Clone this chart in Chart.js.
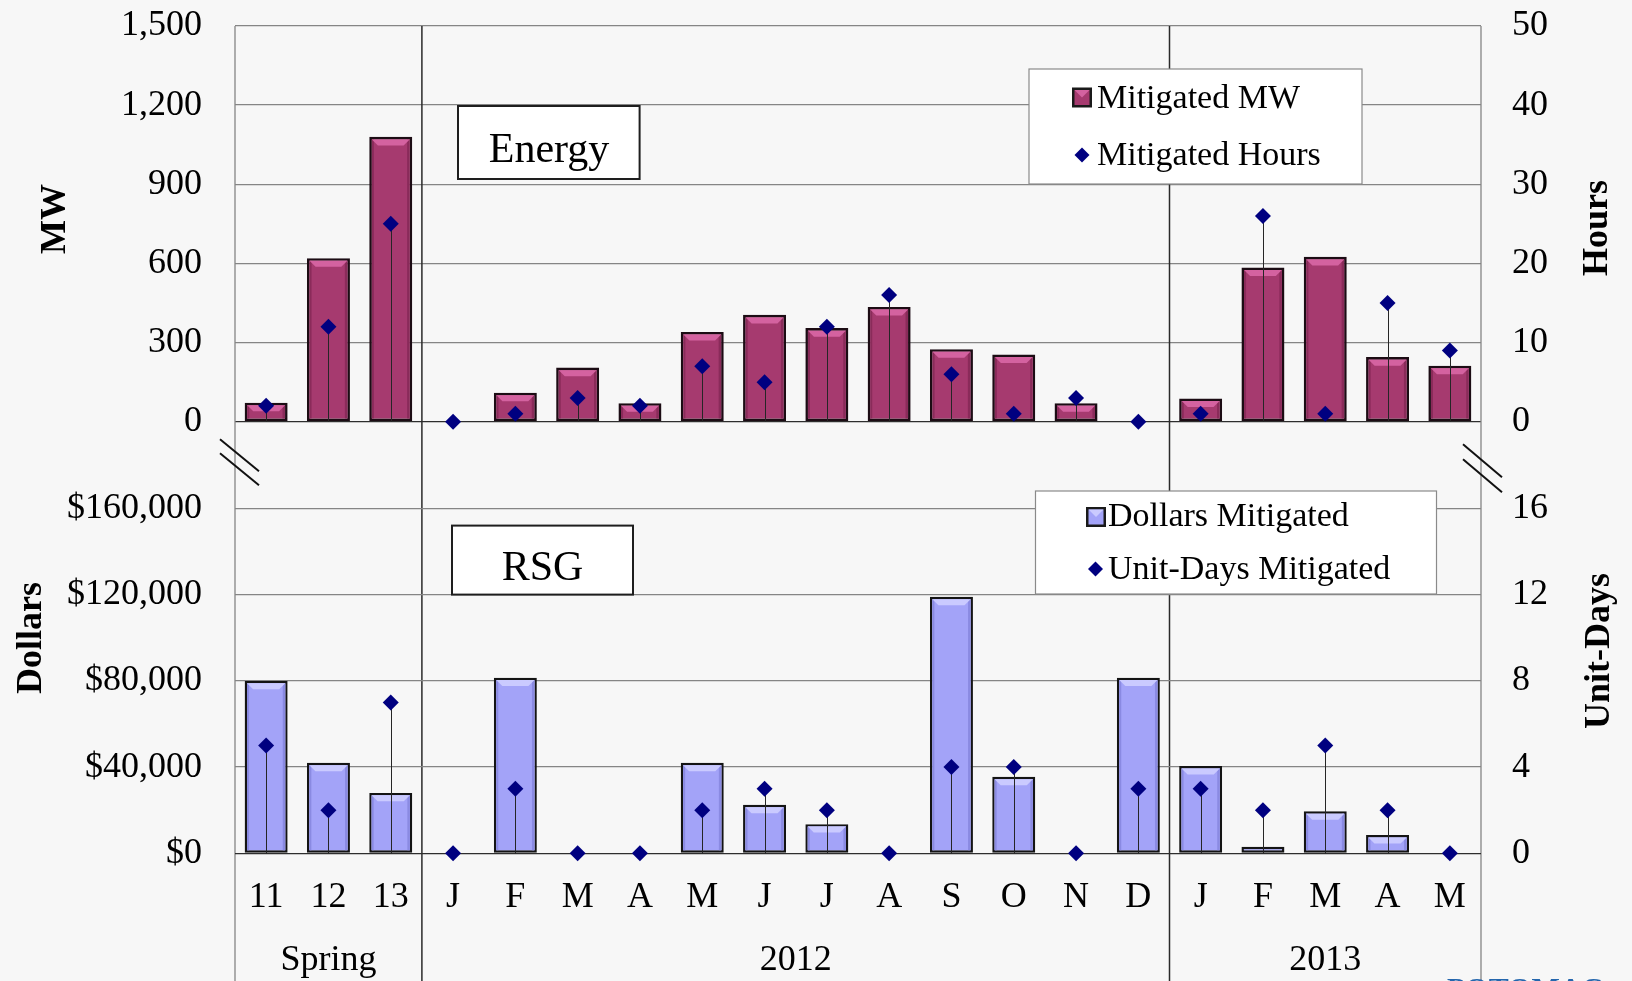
<!DOCTYPE html>
<html><head><meta charset="utf-8">
<script src="https://cdn.jsdelivr.net/npm/chart.js@4.4.1/dist/chart.umd.min.js"></script>
<style>
html,body{margin:0;padding:0;background:#f7f7f7;width:1632px;height:981px;overflow:hidden;}
canvas{position:absolute;left:0;top:0;}
</style></head><body>
<canvas id="energy" width="1632" height="981"></canvas>
<canvas id="rsg" width="1632" height="981"></canvas>
<script>
// ---------------- data ----------------
const categories = ['11','12','13','J','F','M','A','M','J','J','A','S','O','N','D','J','F','M','A','M'];
const groupNames = ['Spring','2012','2013'];
const groupSizes = [3, 12, 5];
const mitigatedMW = [72, 620, 1080, 0, 110, 205, 70, 340, 405, 355, 435, 275, 255, 70, 0, 88, 585, 625, 245, 212];
const mitigatedHours = [2, 12, 25, 0, 1, 3, 2, 7, 5, 12, 16, 6, 1, 3, 0, 1, 26, 1, 15, 9];
const dollarsMitigated = [80000, 42000, 28000, 0, 81500, 0, 0, 42000, 22500, 13500, 0, 119000, 35500, 0, 81500, 40500, 3000, 19500, 8500, 0];
const unitDaysMitigated = [5, 2, 7, 0, 3, 0, 0, 2, 3, 2, 0, 4, 4, 0, 3, 3, 2, 5, 2, 0];
const mwTicks = [0, 300, 600, 900, 1200, 1500];
const hoursTicks = [0, 10, 20, 30, 40, 50];
const dollarTicks = [0, 40000, 80000, 120000, 160000];
const unitDayTicks = [0, 4, 8, 12, 16];

// group centres (in category index units) and boundaries
const groupCenters = [];
const groupBounds = [];
(function(){ let s = 0; groupSizes.forEach(n => { groupCenters.push(s + (n - 1) / 2); s += n; groupBounds.push(s); }); })();

// ---------------- layout / style ----------------
const FONT = "'Liberation Serif','Times New Roman',serif";
const W = 1632, H = 981;
const PLOT_L = 235, PLOT_R = 1481;
const TOP_A = 26, ZERO_A = 421.7, TOP_B = 508.5, ZERO_B = 853.3;
const tickFont = {family: FONT, size: 36};
const catFont = {family: FONT, size: 36};
const gridColor = c => (c.tick && c.tick.value === 0) ? '#2e2e2e' : '#858585';
const fixedTicks = vals => s => { s.ticks = vals.map(v => ({value: v})); };
const CLEAR = 'rgba(0,0,0,0)';

// ---------------- plugin ----------------
function drawBoxTitle(ctx, b) {
  ctx.save();
  ctx.fillStyle = '#ffffff';
  ctx.fillRect(b.x, b.y, b.w, b.h);
  ctx.strokeStyle = '#1e1e1e'; ctx.lineWidth = 2;
  ctx.strokeRect(b.x, b.y, b.w, b.h);
  ctx.fillStyle = '#000'; ctx.font = '42px ' + FONT;
  ctx.textAlign = 'center'; ctx.textBaseline = 'alphabetic';
  ctx.fillText(b.text, b.cx, b.baseline);
  ctx.restore();
}
function drawDiamond(ctx, x, y, r, color) {
  ctx.fillStyle = color;
  ctx.beginPath(); ctx.moveTo(x, y - r); ctx.lineTo(x + r, y); ctx.lineTo(x, y + r); ctx.lineTo(x - r, y); ctx.closePath(); ctx.fill();
}
function drawLegend(chart, lg) {
  const ctx = chart.ctx, ds = chart.data.datasets, b = lg.box;
  ctx.save();
  ctx.fillStyle = '#ffffff'; ctx.fillRect(b.x, b.y, b.w, b.h);
  ctx.strokeStyle = '#8a8a8a'; ctx.lineWidth = 1.2; ctx.strokeRect(b.x, b.y, b.w, b.h);
  ctx.font = '34px ' + FONT; ctx.fillStyle = '#000'; ctx.textAlign = 'left'; ctx.textBaseline = 'alphabetic';
  lg.rows.forEach((r, i) => {
    const d = ds[i];
    if (d.type === 'bar') {
      const s = 20, x0 = r.mx - s / 2, y0 = r.my - s / 2;
      ctx.fillStyle = '#1a1a1a'; ctx.fillRect(x0, y0, s, s);
      ctx.fillStyle = d.backgroundColor; ctx.fillRect(x0 + 2.5, y0 + 2.5, s - 5, s - 5);
      ctx.fillStyle = d.bevel.light;
      ctx.beginPath(); ctx.moveTo(x0 + 2.5, y0 + 2.5); ctx.lineTo(x0 + s - 2.5, y0 + 2.5); ctx.lineTo(r.mx, r.my); ctx.closePath(); ctx.fill();
    } else {
      drawDiamond(ctx, r.mx, r.my, 7.5, d.pointBackgroundColor);
    }
    ctx.fillStyle = '#000';
    ctx.fillText(d.label, r.tx, r.bl);
  });
  ctx.restore();
}
function drawAxisTitle(ctx, t) {
  ctx.save();
  ctx.font = 'bold 36px ' + FONT; ctx.fillStyle = '#000';
  ctx.textAlign = 'center'; ctx.textBaseline = 'alphabetic';
  ctx.translate(t.x, t.y); ctx.rotate(-Math.PI / 2);
  ctx.fillText(t.text, 0, 0);
  ctx.restore();
}

const panelDecor = {
  id: 'panelDecor',
  beforeDatasetsDraw(chart, args, o) {
    if (!o.frame) return;
    const ctx = chart.ctx, x = chart.scales.x, ca = chart.chartArea;
    ctx.save();
    // outer vertical lines
    ctx.strokeStyle = '#858585'; ctx.lineWidth = 1.3;
    [x.left, x.right].forEach(px => { ctx.beginPath(); ctx.moveTo(px, ca.top); ctx.lineTo(px, H); ctx.stroke(); });
    // group separators
    ctx.strokeStyle = '#2a2a2a'; ctx.lineWidth = 1.5;
    groupBounds.slice(0, -1).forEach(bi => {
      const px = (x.getPixelForValue(bi - 1) + x.getPixelForValue(bi)) / 2;
      ctx.beginPath(); ctx.moveTo(px, ca.top); ctx.lineTo(px, H); ctx.stroke();
    });
    // axis break marks
    ctx.strokeStyle = '#111'; ctx.lineWidth = 2;
    const marks = [[x.left, -15, 24, 17.5, 49.5, 14], [x.right, -18, 21, 22.5, 55.5, 15]];
    marks.forEach(m => {
      for (let k = 0; k < 2; k++) {
        ctx.beginPath();
        ctx.moveTo(m[0] + m[1], ca.bottom + m[3] + k * m[5]);
        ctx.lineTo(m[0] + m[2], ca.bottom + m[4] + k * m[5]);
        ctx.stroke();
      }
    });
    ctx.restore();
  },
  afterDatasetDraw(chart, args) {
    const ds = chart.data.datasets[args.index];
    if (args.meta.type !== 'bar' || !ds.bevel) return;
    const ctx = chart.ctx, bw = ds.borderWidth;
    ctx.save();
    args.meta.data.forEach(el => {
      const p = el.getProps(['x', 'y', 'base', 'width'], true);
      const top = Math.min(p.y, p.base), bot = Math.max(p.y, p.base);
      const l = p.x - p.width / 2 + bw, r = p.x + p.width / 2 - bw, t = top + bw, b = bot - bw;
      if (b - t < 3) return;
      const hh = Math.min(6, (b - t) / 2);
      ctx.fillStyle = ds.bevel.dark;
      ctx.fillRect(r - 2.5, t, 2.5, b - t);
      ctx.fillRect(l, t, 2, b - t);
      ctx.fillStyle = ds.bevel.light;
      ctx.beginPath(); ctx.moveTo(l, t); ctx.lineTo(r, t); ctx.lineTo(r - hh, t + hh); ctx.lineTo(l + hh, t + hh); ctx.closePath(); ctx.fill();
    });
    ctx.restore();
  },
  beforeDatasetDraw(chart, args) {
    const ds = chart.data.datasets[args.index];
    if (args.meta.type !== 'line' || !ds.dropLines) return;
    const ctx = chart.ctx, ys = chart.scales[args.meta.yAxisID], base = ys.getPixelForValue(0);
    ctx.save();
    ctx.strokeStyle = '#262626'; ctx.lineWidth = 1;
    args.meta.data.forEach(el => {
      if (Math.abs(base - el.y) < 1) return;
      ctx.beginPath(); ctx.moveTo(Math.round(el.x) + 0.5, el.y); ctx.lineTo(Math.round(el.x) + 0.5, base); ctx.stroke();
    });
    ctx.restore();
  },
  afterDatasetsDraw(chart, args, o) {
    const ctx = chart.ctx;
    if (o.titleBox) drawBoxTitle(ctx, o.titleBox);
    if (o.legend) drawLegend(chart, o.legend);
    (o.axisTitles || []).forEach(t => drawAxisTitle(ctx, t));
    if (o.logo) {
      ctx.save(); ctx.font = 'bold 30px ' + FONT; ctx.fillStyle = '#2466ad';
      ctx.textAlign = 'left'; ctx.fillText(o.logo.text, o.logo.x, o.logo.y); ctx.restore();
    }
  }
};

const common = {
  responsive: false, animation: false, devicePixelRatio: 1, events: [],
  plugins: {legend: {display: false}, tooltip: {enabled: false}}
};
// vertical value axis factory: label gap made with an invisible tick mark so it adds no top/bottom padding
function valueAxis(position, min, max, tickVals, gap, fmt, showGrid) {
  return {
    type: 'linear', position, min, max, afterBuildTicks: fixedTicks(tickVals),
    afterFit: s => { s.width = position === 'left' ? PLOT_L : W - PLOT_R; },
    ticks: {font: tickFont, color: '#000', padding: 0, callback: fmt},
    grid: showGrid
      ? {display: true, color: gridColor, lineWidth: 1.3, drawTicks: true, tickLength: gap, tickColor: CLEAR}
      : {display: true, color: CLEAR, drawOnChartArea: false, drawTicks: true, tickLength: gap, tickColor: CLEAR},
    border: {display: false}
  };
}

// ---------------- Energy chart ----------------
new Chart(document.getElementById('energy'), {
  data: {
    labels: categories,
    datasets: [
      {type: 'bar', label: 'Mitigated MW', data: mitigatedMW, yAxisID: 'yMW', order: 1,
       backgroundColor: '#A63A6F', borderColor: '#1c0c14', borderWidth: 2.6, borderSkipped: false,
       barPercentage: 0.69, categoryPercentage: 1, bevel: {light: '#D462A0', dark: '#8A2B5A'}},
      {type: 'line', label: 'Mitigated Hours', data: mitigatedHours, yAxisID: 'yH', order: 0,
       showLine: false, pointStyle: 'rectRot', pointRadius: 8, pointBorderWidth: 0,
       pointBackgroundColor: '#000080', pointBorderColor: '#000080', clip: false, dropLines: true}
    ]
  },
  options: Object.assign({}, common, {
    layout: {autoPadding: false, padding: {top: TOP_A, bottom: H - ZERO_A, left: 0, right: 0}},
    scales: {
      x: {type: 'category', display: false, offset: true, grid: {display: false}},
      yMW: valueAxis('left', 0, 1500, mwTicks, 33, v => v.toLocaleString('en-US'), true),
      yH: valueAxis('right', 0, 50, hoursTicks, 31, v => String(v), false)
    },
    plugins: Object.assign({}, common.plugins, {
      panelDecor: {
        frame: true,
        titleBox: {x: 458, y: 106, w: 181.6, h: 73, text: 'Energy', cx: 549, baseline: 162},
        legend: {box: {x: 1029, y: 69, w: 333, h: 115},
                 rows: [{mx: 1082, my: 97.5, tx: 1097, bl: 108}, {mx: 1082, my: 155, tx: 1097, bl: 165}]},
        axisTitles: [{text: 'MW', x: 65, y: 219}, {text: 'Hours', x: 1606.5, y: 228}]
      }
    })
  }),
  plugins: [panelDecor]
});

// ---------------- RSG chart ----------------
new Chart(document.getElementById('rsg'), {
  data: {
    labels: categories,
    datasets: [
      {type: 'bar', label: 'Dollars Mitigated', data: dollarsMitigated, yAxisID: 'yD', order: 1,
       backgroundColor: '#A3A3F8', borderColor: '#141414', borderWidth: 2.4, borderSkipped: false,
       barPercentage: 0.69, categoryPercentage: 1, bevel: {light: '#CACAFF', dark: '#8A8AE2'}},
      {type: 'line', label: 'Unit-Days Mitigated', data: unitDaysMitigated, yAxisID: 'yU', order: 0,
       showLine: false, pointStyle: 'rectRot', pointRadius: 8, pointBorderWidth: 0,
       pointBackgroundColor: '#000080', pointBorderColor: '#000080', clip: false, dropLines: true}
    ]
  },
  options: Object.assign({}, common, {
    layout: {autoPadding: false, padding: {top: TOP_B, bottom: 0, left: 0, right: 0}},
    scales: {
      x: {type: 'category', position: 'bottom', offset: true, weight: 0,
        grid: {display: false, drawTicks: false}, border: {display: false},
        ticks: {font: catFont, color: '#000', padding: 23, autoSkip: false, maxRotation: 0, minRotation: 0},
        afterFit: s => { s.height = 70; }},
      xg: {type: 'linear', position: 'bottom', weight: 1, min: -0.5, max: categories.length - 0.5,
        afterBuildTicks: s => { s.ticks = groupCenters.map(v => ({value: v})); },
        ticks: {font: catFont, color: '#000', padding: 16, autoSkip: false, maxRotation: 0, minRotation: 0,
                callback: (v, i) => groupNames[i]},
        grid: {display: false, drawTicks: false}, border: {display: false},
        afterFit: s => { s.height = H - ZERO_B - 70; }},
      yD: valueAxis('left', 0, 160000, dollarTicks, 33, v => '$' + v.toLocaleString('en-US'), true),
      yU: valueAxis('right', 0, 16, unitDayTicks, 31, v => String(v), false)
    },
    plugins: Object.assign({}, common.plugins, {
      panelDecor: {
        frame: false,
        titleBox: {x: 452, y: 525.6, w: 181, h: 69, text: 'RSG', cx: 542.5, baseline: 580},
        legend: {box: {x: 1035.5, y: 491, w: 401, h: 103},
                 rows: [{mx: 1096, my: 517, tx: 1108, bl: 526}, {mx: 1095.5, my: 569, tx: 1108, bl: 579}]},
        axisTitles: [{text: 'Dollars', x: 41, y: 638}, {text: 'Unit-Days', x: 1609, y: 651}],
        logo: {text: 'POTOMAC', x: 1447, y: 998}
      }
    })
  }),
  plugins: [panelDecor]
});
</script>
</body></html>
